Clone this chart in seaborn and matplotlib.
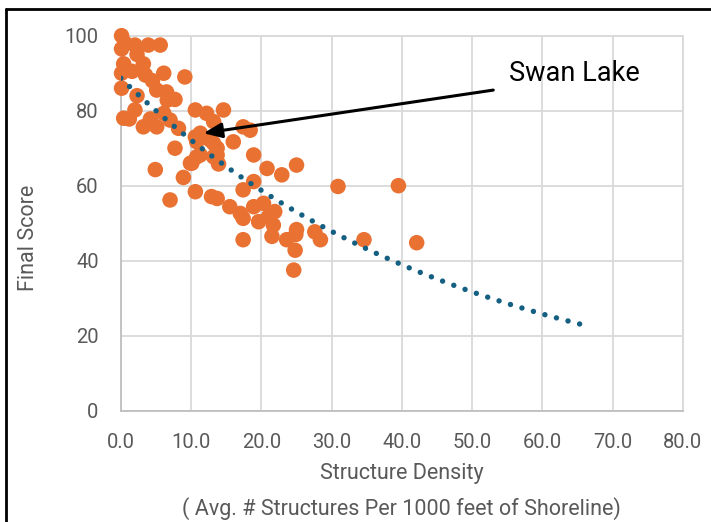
import numpy as np
import pandas as pd
import matplotlib.pyplot as plt
from matplotlib.lines import Line2D
from matplotlib.ticker import MultipleLocator, FormatStrFormatter
import seaborn as sns

# structure density (x) and final score (y)
density = [0.1, 0.6, 0.1, 2.0, 3.9, 5.6, 2.3, 3.2, 0.4, 0.1,
           1.6, 3.5, 6.1, 9.1, 0.1, 2.3, 5.1, 6.5, 7.7, 4.5,
           2.0, 0.4, 1.2, 3.2, 5.1, 6.1, 7.0, 8.2, 10.6, 12.2,
           14.6, 13.2, 11.3, 12.7, 17.4, 18.4, 16.0, 10.8, 7.7, 13.7,
           10.8, 13.2, 18.9, 9.9, 4.9, 13.9, 10.6, 13.2, 11.3, 13.7,
           8.9, 7.0, 10.6, 12.9, 13.7, 17.4, 18.9, 20.8, 22.9, 25.0,
           30.9, 15.5, 17.0, 17.4, 18.9, 20.3, 19.6, 21.9, 21.7, 21.5,
           17.4, 23.6, 25.0, 24.9, 24.8, 24.6, 27.6, 28.4, 21.0, 39.5,
           34.6, 42.1, 10.1, 4.2, 6.6]
score = [100.0, 98.0, 96.5, 97.5, 97.5, 97.5, 95.0, 92.5, 92.5, 90.0,
         90.5, 89.5, 90.0, 89.0, 86.0, 84.0, 85.5, 85.0, 83.0, 88.0,
         80.2, 78.0, 77.8, 75.7, 75.7, 79.3, 77.5, 75.3, 80.2, 79.3,
         80.2, 77.1, 74.0, 72.2, 75.7, 74.8, 71.7, 71.7, 70.0, 70.0,
         67.7, 67.7, 68.2, 66.0, 64.3, 65.8, 73.0, 71.3, 68.2, 68.2,
         62.2, 56.2, 58.4, 57.1, 56.6, 58.9, 61.1, 64.6, 62.9, 65.5,
         59.8, 54.4, 52.6, 51.3, 54.4, 55.3, 50.4, 53.1, 49.5, 46.5,
         45.6, 45.6, 48.3, 47.0, 42.8, 37.5, 47.7, 45.6, 51.7, 60.0,
         45.6, 44.8, 66.0, 77.8, 82.8]

trend_x_end = 66.5          # trendline forecast end
swan_point = (11.75, 74.0)  # arrow tip
swan_tail = (53.0, 85.5)
swan_label = (64.6, 89.8)

df = pd.DataFrame({"density": density, "score": score})

# exponential trendline, fitted like Excel does (least squares on ln y)
b, ln_a = np.polyfit(df["density"], np.log(df["score"]), 1)
tx = np.linspace(0, trend_x_end, 300)
trend = pd.DataFrame({"density": tx, "score": np.exp(ln_a) * np.exp(b * tx)})

sns.set_style("white")
plt.rcParams["font.family"] = ["Roboto", "DejaVu Sans"]

fig = plt.figure(figsize=(7.11, 5.22), dpi=100)
ax = fig.add_axes([0.170, 0.2132, 0.7906, 0.7184])

grid_c = "#D9D9D9"
axis_c = "#BFBFBF"
text_c = "#595959"

sns.scatterplot(data=df, x="density", y="score", ax=ax, color="#E97132",
                s=125, edgecolor="none", alpha=1, zorder=3, clip_on=False)
sns.lineplot(data=trend, x="density", y="score", ax=ax, color="#156082",
             linewidth=3.9, linestyle=(0, (0.01, 2.2)),
             dash_capstyle="round", zorder=4)

ax.set_xlim(0, 80)
ax.set_ylim(0, 100)
ax.xaxis.set_major_locator(MultipleLocator(10))
ax.xaxis.set_minor_locator(MultipleLocator(5))
ax.yaxis.set_major_locator(MultipleLocator(20))
ax.yaxis.set_minor_locator(MultipleLocator(10))
ax.xaxis.set_major_formatter(FormatStrFormatter("%.1f"))

ax.grid(True, which="major", color=grid_c, linewidth=1.3, zorder=0)
ax.set_axisbelow(True)
for side in ["top", "right"]:
    ax.spines[side].set_color(grid_c)
    ax.spines[side].set_linewidth(1.3)
for side in ["left", "bottom"]:
    ax.spines[side].set_color(axis_c)
    ax.spines[side].set_linewidth(1.3)

ax.tick_params(which="both", direction="inout", length=8, width=1.3,
               color=axis_c, labelcolor=text_c, labelsize=14.5)
ax.tick_params(axis="x", which="major", pad=12)
ax.tick_params(axis="y", which="major", pad=12)

ax.set_xlabel("Structure Density\n( Avg. # Structures Per 1000 feet of Shoreline)",
              fontsize=15.5, color=text_c, linespacing=1.75, labelpad=8)
ax.set_ylabel("Final Score", fontsize=15.5, color=text_c)
ax.yaxis.set_label_coords(-0.145, 0.46)

ax.annotate("", xy=swan_point, xytext=swan_tail,
            arrowprops=dict(arrowstyle="-|>,head_length=1.1,head_width=0.45",
                            color="black", lw=2.2, shrinkA=0, shrinkB=0),
            zorder=5)
ax.text(swan_label[0], swan_label[1], "Swan Lake", fontsize=19.5,
        color="black", ha="center", va="center")

# outer chart border (only top and left are visible in the crop)
fig.add_artist(Line2D([6 / 711, 6 / 711], [0, 1 - 9 / 522], color="black", lw=2))
fig.add_artist(Line2D([6 / 711, 1], [1 - 9 / 522, 1 - 9 / 522], color="black", lw=2))

fig.savefig("out.png", dpi=100)
